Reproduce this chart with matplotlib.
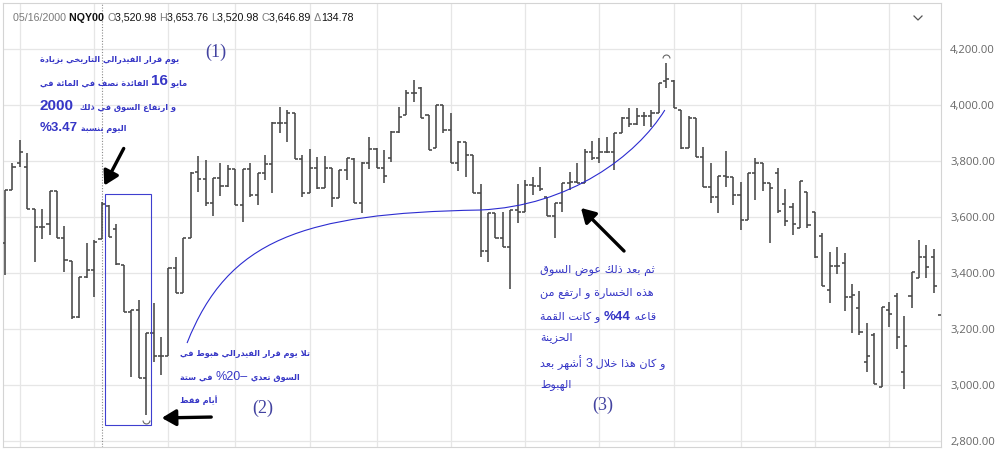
import numpy as np
import matplotlib
matplotlib.use('Agg')
import matplotlib.pyplot as plt
from matplotlib import transforms
from matplotlib.lines import Line2D
from matplotlib.path import Path
from matplotlib.patches import PathPatch, Rectangle, FancyArrowPatch
from matplotlib.offsetbox import TextArea, HPacker, AnnotationBbox

# daily NQY00 bars, 04/27/2000 .. 10/25/2000
opens = [3507, 3698, 3793, 3779, 3630, 3564, 3575, 3694, 3525, 3444,
         3245, 3388, 3412, 3520.98, 3640, 3557, 3430, 3263, 3268, 3025,
         3188, 3103, 3103, 3418, 3329, 3525, 3763, 3736, 3650, 3739,
         3712, 3771, 3644, 3771, 3680, 3757, 3790, 3938, 3938, 3974,
         3807, 3688, 3775, 3704, 3775, 3670, 3769, 3807, 3650, 3795,
         3844, 3775, 3811, 3906, 3965, 4045, 4060, 3965, 3846, 4001,
         3912, 3793, 3870, 3823, 3686, 3481, 3614, 3525, 3495, 3626,
         3620, 3715, 3712, 3674, 3603, 3650, 3724, 3727, 3724, 3834,
         3811, 3834, 3834, 3900, 3954, 3933, 3962, 3960, 3974, 4085,
         4088, 3983, 3846, 3954, 3814, 3710, 3674, 3748, 3743, 3680,
         3590, 3760, 3795, 3721, 3757, 3648, 3636, 3561, 3692, 3620,
         3533, 3340, 3426, 3436, 3317, 3275, 3085, 3180, 2993, 3269,
         3319, 3049, 3319, 3382, 3460, 3460, 3250]
highs = [3698, 3793, 3876, 3829, 3630, 3630, 3694, 3694, 3570, 3444,
         3388, 3507, 3519, 3653.76, 3645, 3577, 3430, 3270, 3303, 3188,
         3293, 3174, 3418, 3460, 3525, 3763, 3819, 3805, 3739, 3793,
         3787, 3774, 3771, 3795, 3757, 3823, 3942, 3993, 3983, 3974,
         3823, 3843, 3817, 3819, 3775, 3769, 3811, 3811, 3799, 3888,
         3846, 3840, 3910, 3993, 4055, 4090, 4067, 3965, 4001, 4001,
         3971, 3874, 3870, 3823, 3719, 3614, 3614, 3620, 3626, 3719,
         3733, 3745, 3781, 3674, 3650, 3724, 3763, 3793, 3843, 3874,
         3882, 3886, 3902, 3957, 3989, 3989, 3977, 3983, 4081, 4150,
         4090, 3983, 3960, 3954, 3852, 3793, 3748, 3838, 3745, 3727,
         3760, 3811, 3795, 3724, 3775, 3700, 3652, 3730, 3692, 3620,
         3545, 3477, 3495, 3471, 3362, 3338, 3224, 3186, 3281, 3299,
         3329, 3248, 3406, 3519, 3501, 3486, 3250]
lows = [3394, 3698, 3781, 3630, 3439, 3523, 3537, 3525, 3406, 3237,
        3240, 3382, 3317, 3520.98, 3531, 3430, 3263, 3031, 3025, 2895,
        3085, 3037, 3103, 3329, 3329, 3525, 3692, 3641, 3603, 3676,
        3710, 3644, 3585, 3674, 3644, 3733, 3688, 3902, 3870, 3807,
        3674, 3688, 3700, 3704, 3638, 3668, 3733, 3650, 3614, 3771,
        3775, 3722, 3799, 3902, 3965, 4010, 3954, 3840, 3846, 3900,
        3793, 3767, 3745, 3686, 3457, 3439, 3525, 3495, 3343, 3579,
        3620, 3680, 3695, 3603, 3525, 3620, 3698, 3721, 3724, 3805,
        3793, 3830, 3769, 3900, 3921, 3930, 3926, 3924, 3974, 4061,
        3989, 3843, 3846, 3814, 3707, 3650, 3614, 3710, 3644, 3555,
        3590, 3662, 3695, 3510, 3614, 3569, 3537, 3561, 3561, 3454,
        3355, 3295, 3397, 3267, 3188, 3180, 3049, 3005, 2993, 3207,
        3129, 2986, 3275, 3382, 3382, 3331, 3250]
closes = [3698, 3779, 3834, 3630, 3564, 3564, 3694, 3525, 3448, 3245,
          3388, 3412, 3512.11, 3646.89, 3531, 3432, 3263, 3268, 3025, 3188,
          3103, 3103, 3418, 3329, 3525, 3757, 3736, 3650, 3739, 3712,
          3771, 3644, 3771, 3680, 3757, 3790, 3938, 3938, 3974, 3807,
          3688, 3775, 3704, 3775, 3670, 3769, 3811, 3650, 3795, 3844,
          3775, 3748, 3906, 3959, 4045, 4045, 3954, 3840, 4001, 3912,
          3793, 3870, 3823, 3686, 3481, 3614, 3525, 3495, 3626, 3620,
          3715, 3712, 3700, 3603, 3650, 3724, 3727, 3724, 3834, 3811,
          3834, 3834, 3900, 3954, 3933, 3962, 3960, 3974, 4081, 4095,
          3989, 3846, 3954, 3814, 3710, 3674, 3748, 3743, 3680, 3590,
          3760, 3795, 3721, 3704, 3624, 3587, 3576, 3730, 3573, 3460,
          3355, 3426, 3426, 3317, 3323, 3192, 3103, 3005, 3281, 3255,
          3174, 3141, 3406, 3460, 3424, 3355, 3250]

y_ticks = [2800, 3000, 3200, 3400, 3600, 3800, 4000, 4200]
# bar indices where the two-weekly grid lines fall
grid_bars = [2, 12, 22, 31, 41, 50, 60, 70, 80, 90, 99, 109, 119]
cross_bar = 13          # 05/16/2000
drop_bars = (14, 20)    # the six days after the decision
symbol = "NQY00"
date_label = "05/16/2000"

# ---------- very small arabic shaper (matplotlib does no shaping) ----------
LETTERS = "ءآأؤإئابةتثجحخدذرزسشصضطظعغفقكلمنهوىي"
COUNTS = [1, 2, 2, 2, 2, 4, 2, 4, 2, 4, 4, 4, 4, 4, 2, 2, 2, 2, 4, 4, 4, 4, 4, 4,
          4, 4, 4, 4, 4, 4, 4, 4, 4, 2, 2, 4]
FORMS = {}
code = 0xFE80
for ch, n in zip(LETTERS, COUNTS):
    FORMS[ch] = [chr(code + k) for k in range(n)]
    code += n
LAM_ALEF = {'آ': '\ufef5\ufef6', 'أ': '\ufef7\ufef8', 'إ': '\ufef9\ufefa', 'ا': '\ufefb\ufefc'}


def shape(s):
    out = []
    i = 0
    while i < len(s):
        c = s[i]
        if c not in FORMS:
            out.append(c)
            i += 1
            continue
        p = i > 0 and s[i - 1] in FORMS and len(FORMS[s[i - 1]]) == 4
        if c == 'ل' and i + 1 < len(s) and s[i + 1] in LAM_ALEF:
            out.append(LAM_ALEF[s[i + 1]][1 if p else 0])
            i += 2
            continue
        nx = i + 1 < len(s) and s[i + 1] in FORMS and len(FORMS[s[i + 1]]) >= 2
        f = FORMS[c]
        if len(f) == 4:
            k = 3 if p and nx else 1 if p else 2 if nx else 0
        elif len(f) == 2:
            k = 1 if p else 0
        else:
            k = 0
        out.append(f[k])
        i += 1
    return ''.join(out)


def is_arabic(s):
    return any(ch in FORMS for ch in s)


W, H = 1006, 454
fig = plt.figure(figsize=(W / 100, H / 100), dpi=100)
fig.patch.set_facecolor('white')
ax = fig.add_axes([3 / W, 7 / H, 938 / W, 444 / H])
# pixel positions measured from the top-left of the picture
pix = transforms.Affine2D().scale(1 / W, -1 / H).translate(0, 1) + fig.transFigure

idx = np.arange(len(opens))
bar_col = '#474747'
ax.vlines(idx, lows, highs, color=bar_col, lw=1.15, zorder=3)
ax.hlines(opens, idx - 0.42, idx, color=bar_col, lw=1.15, zorder=3)
ax.hlines(closes, idx, idx + 0.42, color=bar_col, lw=1.15, zorder=3)

# high / low markers
top_arc = Path.arc(0, 180)
bot_arc = Path.arc(180, 360)
i_hi = int(np.argmax(highs))
i_lo = int(np.argmin(lows))
ax.plot([i_hi], [highs[i_hi] + 18], marker=top_arc, ms=5, mfc='none', mec='#666', mew=0.8)
ax.plot([i_lo], [lows[i_lo] - 18], marker=bot_arc, ms=5, mfc='none', mec='#666', mew=0.8)

ax.set_xlim(-0.27, 125.97)
ax.set_ylim(2779.8, 4365.3)
ax.set_xticks(grid_bars)
ax.set_yticks(y_ticks)
ax.set_yticklabels([f'{v:,.2f}' for v in y_ticks], fontfamily='Open Sans')
ax.yaxis.tick_right()
ax.tick_params(axis='y', length=0, pad=6.5, labelsize=8.1, labelcolor='#666666')
ax.tick_params(axis='x', length=0, labelbottom=False)
ax.grid(True, color='#e6e6e6', lw=0.9)
ax.set_axisbelow(True)
for sp in ax.spines.values():
    sp.set_color('#d4d4d4')
    sp.set_linewidth(0.8)

# crosshair
ax.axvline(cross_bar, color='#8a8a8a', lw=0.8, ls=(0, (1, 1.5)), zorder=2)

# box around the six-day fall
lo = min(lows[drop_bars[0]:drop_bars[1]])
hi = max(highs[drop_bars[0]:drop_bars[1]])
ax.add_patch(Rectangle((drop_bars[0] - 0.5, lo - 36), drop_bars[1] - drop_bars[0] + 0.15,
                       hi - lo + 75, fill=False, ec='#3f3fcf', lw=0.8, zorder=4))

# hand drawn recovery curve
verts = [(24.5, 3151), (30, 3520), (40, 3615), (63.9, 3626),
         (76, 3640), (85, 3820), (88.8, 3983)]
codes = [Path.MOVETO] + [Path.CURVE4] * 6
ax.add_patch(PathPatch(Path(verts, codes), fill=False, ec='#2c2cd0', lw=0.8, zorder=4))

# ---------- header ----------
i0 = cross_bar
chg = closes[i0] - closes[i0 - 1]
gray = '#7a7a7a'
hdr = [(date_label + ' ', gray, 'normal'), (symbol + ' ', '#111111', 'bold'),
       ('O', gray, 'normal'), (f'{opens[i0]:,.2f} ', '#111111', 'normal'),
       ('H', gray, 'normal'), (f'{highs[i0]:,.2f} ', '#111111', 'normal'),
       ('L', gray, 'normal'), (f'{lows[i0]:,.2f} ', '#111111', 'normal'),
       ('C', gray, 'normal'), (f'{closes[i0]:,.2f} ', '#111111', 'normal'),
       ('Δ', gray, 'normal'), (f'{chg:,.2f}', '#111111', 'normal')]


def put_line(parts, x, y):
    boxes = [TextArea(t, textprops=kw) for t, kw in parts]
    pack = HPacker(children=boxes, align='baseline', pad=0, sep=0)
    ab = AnnotationBbox(pack, (x, y), xycoords=pix, box_alignment=(0, 0.5),
                        frameon=False, pad=0, annotation_clip=False)
    fig.add_artist(ab)


put_line([(t, dict(color=c, weight=w, family='Liberation Sans', size=7.7)) for t, c, w in hdr], 13, 18)
fig.add_artist(Line2D([914, 918, 922], [16, 20, 16], transform=pix, color='#555555', lw=0.9))

# ---------- arabic notes ----------
BLUE = '#3636c6'


def put_arabic(segs, x, y, akw):
    parts = []
    for text, kw in reversed(segs):
        if is_arabic(text):
            parts.append((shape(text)[::-1], akw))
        else:
            parts.append((text, kw))
    put_line(parts, x, y)


a1 = dict(family='DejaVu Sans', weight='bold', size=5.9, color=BLUE)
nbig = dict(family='Liberation Sans', weight='bold', size=11, color=BLUE)
nmid = dict(family='Liberation Sans', weight='bold', size=9.5, color=BLUE)
note1 = [
    [("يوم قرار الفيدرالي التاريخي بزيادة", a1)],
    [("مايو ", a1), ("16", nbig), (" الفائدة نصف في المائة في", a1)],
    [("و ارتفاع السوق في ذلك  ", a1), ("2000", nbig)],
    [("اليوم بنسبة ", a1), ("%3.47", nmid)],
]
for segs, y in zip(note1, [59, 81, 106, 128]):
    put_arabic(segs, 40, y, a1)

nreg = dict(family='Liberation Sans', size=9, color=BLUE)
note2 = [
    [("تلا يوم قرار الفيدرالي هبوط في", a1)],
    [("السوق تعدي ", a1), ("%20–", nreg), (" في ستة", a1)],
    [("أيام فقط", a1)],
]
for segs, y in zip(note2, [354, 377, 400]):
    put_arabic(segs, 180, y, a1)

a3 = dict(family='DejaVu Sans', size=8.1, color=BLUE)
n3 = dict(family='Liberation Sans', weight='bold', size=9.5, color=BLUE)
n3r = dict(family='Liberation Sans', size=9, color=BLUE)
note3 = [
    [("ثم بعد ذلك عوض السوق", a3)],
    [("هذه الخسارة و ارتفع من", a3)],
    [("قاعه ", a3), ("%44", n3), (" و كانت القمة", a3)],
    [("الحزينة", a3)],
    [("و كان هذا خلال ", a3), ("3", n3r), (" أشهر بعد", a3)],
    [("الهبوط", a3)],
]
for segs, y in zip(note3, [270, 293, 317, 338, 363, 385]):
    put_arabic(segs, 540, y, a3)

for lab, x, y in [("(1)", 216, 52), ("(2)", 263, 408), ("(3)", 603, 405)]:
    fig.text(x, y, lab, transform=pix, ha='center', va='center',
             family='Liberation Serif', size=13, color='#4343a0')

# ---------- arrows ----------
for a, b in [((125, 146), (103, 188)), ((214, 417), (159, 418)), ((626, 253), (579, 206))]:
    fig.add_artist(FancyArrowPatch(a, b, transform=pix, arrowstyle='-|>,head_length=0.6,head_width=0.35',
                                   mutation_scale=14, lw=2.4, color='black'))

fig.savefig('out.png', dpi=100)
